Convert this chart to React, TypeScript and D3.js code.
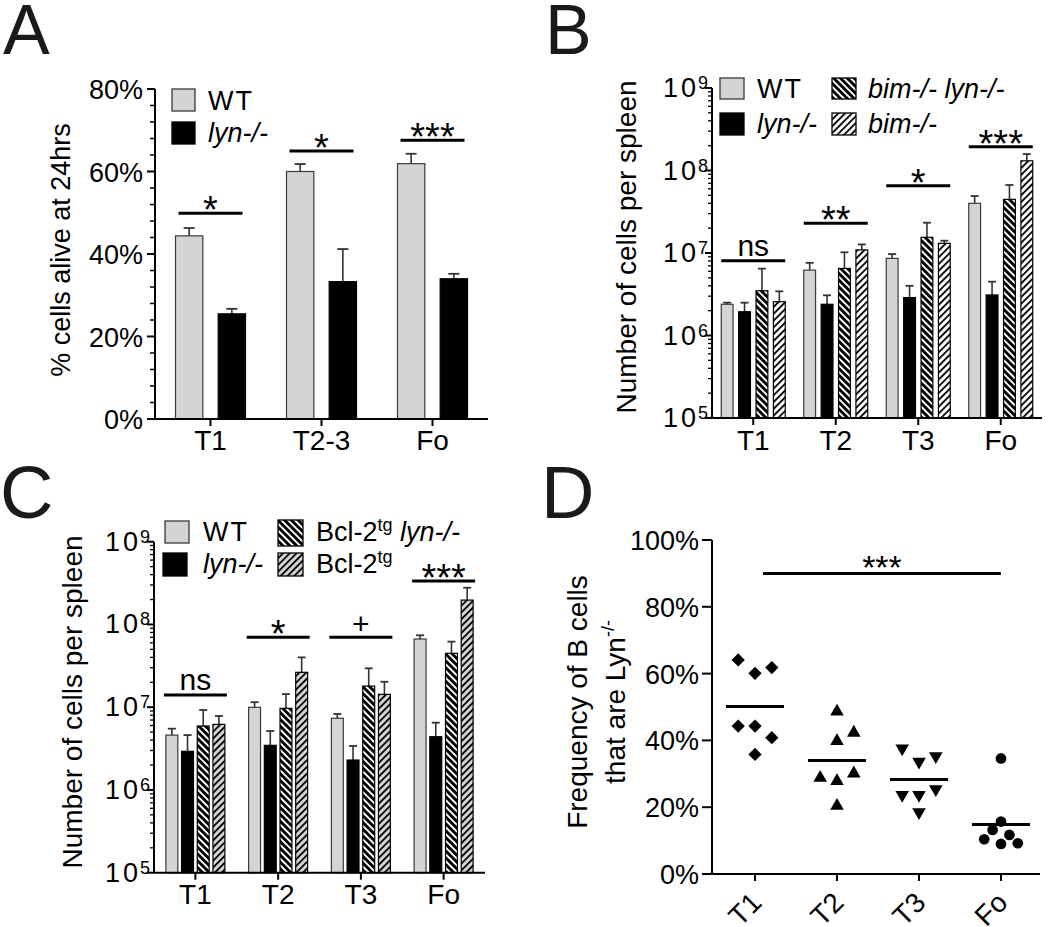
import React from "react";
import * as d3 from "d3";

const FONT = "'Liberation Sans', Arial, Helvetica, sans-serif";
const GRAY = "#d4d4d4";

// ---------------- Panel A: % cells alive at 24hrs ----------------
const aCategories = ["T1", "T2-3", "Fo"];
const aWT = [44.4, 60.0, 61.9];
const aWTErr = [1.9, 1.8, 2.4];
const aLyn = [25.5, 33.3, 34.0];
const aLynErr = [1.2, 7.9, 1.2];
const aSigLabels = ["*", "*", "***"];
const aSigLevels = [49.9, 65.0, 67.6];
const aYTicks = [0, 20, 40, 60, 80];

// ---------------- Panel B: cells per spleen (millions) ----------------
const bCategories = ["T1", "T2", "T3", "Fo"];
const bWT = [2.39, 6.2, 8.6, 40];
const bWTErr = [0.11, 1.4, 1.1, 9];
const bLyn = [1.94, 2.39, 2.88, 3.1];
const bLynErr = [0.56, 0.68, 1.12, 1.39];
const bBimLyn = [3.49, 6.5, 15.5, 44.7];
const bBimLynErr = [2.97, 3.7, 7.8, 22];
const bBim = [2.57, 10.9, 13.1, 131];
const bBimErr = [0.86, 1.8, 1.0, 27];
const bSigLabels = ["ns", "**", "*", "***"];
const bSigLevels = [8.07, 22.9, 65.5, 194];

// ---------------- Panel C: cells per spleen (millions) ----------------
const cCategories = ["T1", "T2", "T3", "Fo"];
const cWT = [4.6, 9.96, 7.35, 66.7];
const cWTErr = [0.9, 1.54, 0.93, 7.3];
const cLyn = [2.93, 3.46, 2.3, 4.4];
const cLynErr = [1.67, 1.69, 1.1, 2.1];
const cBclLyn = [5.93, 9.7, 18.0, 44.8];
const cBclLynErr = [3.32, 4.7, 11.5, 17.2];
const cBcl = [6.2, 26.4, 14.3, 197];
const cBclErr = [1.63, 13.6, 6.0, 81];
const cSigLabels = ["ns", "*", "+", "***"];
const cSigLevels = [14.0, 70, 70, 335];

// log axis domain in millions: 10^5 .. 10^9 cells
const logDomain = [0.1, 1000];

// ---------------- Panel D: frequency of B cells that are Lyn-/- ----------------
const dCategories = ["T1", "T2", "T3", "Fo"];
const dT1 = [60.1, 61.8, 64.1, 44.3, 40.8, 44.3, 35.8];
const dT2 = [48.6, 39.8, 42.3, 27.8, 30.1, 28.8, 20.4];
const dT3 = [33.6, 35.3, 37.6, 23.7, 25.4, 23.7, 18.5];
const dFo = [34.6, 15.7, 9.0, 9.2, 10.4, 11.7, 13.2];
const dYTicks = [0, 20, 40, 60, 80, 100];
const dSigLabel = "***";
const dSigLevel = 90;

type Series = { name: string; values: number[]; errs: number[]; fill: string; stroke: string };

function Bars({ x, sub, y, categories, series, capW, sigLabels, sigLevels, sigInset }: any) {
  const base = y.range()[0];
  const out: any[] = [];
  series.forEach((s: Series) => {
    categories.forEach((c: string, ci: number) => {
      const bx = (x(c) as number) + x.bandwidth() / 2 + (sub(s.name) as number);
      const bw = sub.bandwidth();
      const top = y(s.values[ci]);
      const et = y(s.values[ci] + s.errs[ci]);
      const cx = bx + bw / 2;
      out.push(
        <g key={s.name + c}>
          <line x1={cx} x2={cx} y1={top} y2={et} stroke="#333" strokeWidth={1.6} />
          <line x1={cx - capW / 2} x2={cx + capW / 2} y1={et} y2={et} stroke="#333" strokeWidth={1.8} />
          <rect x={bx} y={top} width={bw} height={base - top} fill={s.fill} stroke={s.stroke} strokeWidth={1.2} />
        </g>
      );
    });
  });
  categories.forEach((c: string, ci: number) => {
    const mid = (x(c) as number) + x.bandwidth() / 2;
    const [r0, r1] = sub.range();
    const ly = y(sigLevels[ci]);
    const lab = sigLabels[ci];
    const isStar = lab.indexOf("*") >= 0;
    out.push(
      <g key={"sig" + c}>
        <line x1={mid + r0 + sigInset} x2={mid + r1 - sigInset} y1={ly} y2={ly} stroke="#000" strokeWidth={3} />
        <text x={mid} y={isStar ? ly + 10 : lab === "+" ? ly - 3 : ly - 5} textAnchor="middle"
          fontSize={isStar ? 38 : 30} fontFamily={FONT}>{lab}</text>
      </g>
    );
  });
  return <g>{out}</g>;
}

function XAxis({ x, y0, x0, x1, labelDy }: any) {
  return (
    <g>
      <line x1={x0} x2={x1} y1={y0} y2={y0} stroke="#000" strokeWidth={2} />
      {x.domain().map((c: string) => {
        const cx = (x(c) as number) + x.bandwidth() / 2;
        return (
          <g key={c}>
            <line x1={cx} x2={cx} y1={y0} y2={y0 + 7} stroke="#000" strokeWidth={2} />
            <text x={cx} y={y0 + labelDy} textAnchor="middle" fontSize={28} fontFamily={FONT}>{c}</text>
          </g>
        );
      })}
    </g>
  );
}

function LogYAxis({ y, x0 }: any) {
  const [d0, d1] = y.domain();
  const majors: number[] = [];
  const minors: number[] = [];
  for (let e = Math.round(Math.log10(d0)); e <= Math.round(Math.log10(d1)); e++) {
    const p = Math.pow(10, e);
    majors.push(p);
    if (e < Math.round(Math.log10(d1))) for (let m = 2; m <= 9; m++) minors.push(m * p);
  }
  return (
    <g>
      <line x1={x0} x2={x0} y1={y(d0)} y2={y(d1)} stroke="#000" strokeWidth={2} />
      {minors.map((v) => (
        <line key={"m" + v} x1={x0 - 4} x2={x0} y1={y(v)} y2={y(v)} stroke="#000" strokeWidth={1.3} />
      ))}
      {majors.map((v) => {
        const exp = Math.round(Math.log10(v * 1e6));
        return (
          <g key={"M" + v}>
            <line x1={x0 - 7} x2={x0} y1={y(v)} y2={y(v)} stroke="#000" strokeWidth={2} />
            <text x={x0 - 4} y={y(v) + 9} textAnchor="end" fontSize={27} fontFamily={FONT}>
              1<tspan dx={3}>0</tspan>
              <tspan dx={2} dy={-8} fontSize={18}>{exp}</tspan>
            </text>
          </g>
        );
      })}
    </g>
  );
}

function LegendBox({ x, y, w, h, fill, stroke }: any) {
  return <rect x={x} y={y} width={w} height={h} fill={fill} stroke={stroke} strokeWidth={1.3} />;
}

function swarmOffsets(values: number[], yScale: any, step: number, minDist: number) {
  const placed: { x: number; y: number }[] = [];
  const cands: number[] = [0];
  for (let k = 1; k <= 6; k++) cands.push(k * step, -k * step);
  return values.map((v) => {
    const py = yScale(v);
    for (const dx of cands) {
      if (placed.every((p) => Math.hypot(p.x - dx, p.y - py) >= minDist)) {
        placed.push({ x: dx, y: py });
        return dx;
      }
    }
    return 0;
  });
}

export default function App() {
  // ---------- Panel A ----------
  const aX = d3.scaleBand<string>().domain(aCategories).range([155, 488]);
  const aSub = d3.scaleBand<string>().domain(["WT", "lyn"]).range([-35, 35]).paddingInner(0.36);
  const aY = d3.scaleLinear().domain([0, 80]).range([419, 89]);
  const aSeries: Series[] = [
    { name: "WT", values: aWT, errs: aWTErr, fill: GRAY, stroke: "#3a3a3a" },
    { name: "lyn", values: aLyn, errs: aLynErr, fill: "#000", stroke: "#000" },
  ];
  const aMinor = d3.range(0, 81, 4).filter((v) => v % 20 !== 0);

  // ---------- Panel B ----------
  const bX = d3.scaleBand<string>().domain(bCategories).range([712, 1042]);
  const bSub = d3.scaleBand<string>().domain(["WT", "lyn", "bimlyn", "bim"]).range([-32, 32]).paddingInner(0.32);
  const bY = d3.scaleLog().domain(logDomain).range([418, 88]);
  const bSeries: Series[] = [
    { name: "WT", values: bWT, errs: bWTErr, fill: GRAY, stroke: "#3a3a3a" },
    { name: "lyn", values: bLyn, errs: bLynErr, fill: "#000", stroke: "#000" },
    { name: "bimlyn", values: bBimLyn, errs: bBimLynErr, fill: "url(#hatchBlack)", stroke: "#000" },
    { name: "bim", values: bBim, errs: bBimErr, fill: "url(#hatchWhite)", stroke: "#000" },
  ];

  // ---------- Panel C ----------
  const cX = d3.scaleBand<string>().domain(cCategories).range([154, 485]);
  const cSub = d3.scaleBand<string>().domain(["WT", "lyn", "bcllyn", "bcl"]).range([-29.5, 29.5]).paddingInner(0.24);
  const cY = d3.scaleLog().domain(logDomain).range([872.7, 541.7]);
  const cSeries: Series[] = [
    { name: "WT", values: cWT, errs: cWTErr, fill: GRAY, stroke: "#3a3a3a" },
    { name: "lyn", values: cLyn, errs: cLynErr, fill: "#000", stroke: "#000" },
    { name: "bcllyn", values: cBclLyn, errs: cBclLynErr, fill: "url(#hatchBlack)", stroke: "#000" },
    { name: "bcl", values: cBcl, errs: cBclErr, fill: "url(#hatchGray)", stroke: "#000" },
  ];

  // ---------- Panel D ----------
  const dX = d3.scaleBand<string>().domain(dCategories).range([714, 1042]);
  const dY = d3.scaleLinear().domain([0, 100]).range([874, 540]);
  const dGroups = [dT1, dT2, dT3, dFo];
  const symbols = [
    { type: d3.symbolSquare, size: 88, rot: 45, dist: 16.3 },
    { type: d3.symbolTriangle, size: 80, rot: 0, dist: 16.3 },
    { type: d3.symbolTriangle, size: 80, rot: 180, dist: 16.3 },
    { type: d3.symbolCircle, size: 90, rot: 0, dist: 11 },
  ];
  const dCenter = (c: string) => (dX(c) as number) + dX.bandwidth() / 2;

  const txt = (props: any, children: any) => (
    <text fontFamily={FONT} {...props}>{children}</text>
  );

  return (
    <svg width={1050} height={927} style={{ position: "absolute", left: 0, top: 0, background: "#fff" }}>
      <defs>
        <pattern id="hatchBlack" patternUnits="userSpaceOnUse" width={4.8} height={4.8} patternTransform="rotate(45)">
          <rect width={4.8} height={4.8} fill="#000" />
          <rect width={4.8} height={1.9} fill="#fff" />
        </pattern>
        <pattern id="hatchWhite" patternUnits="userSpaceOnUse" width={4.8} height={4.8} patternTransform="rotate(-45)">
          <rect width={4.8} height={4.8} fill="#fff" />
          <rect width={4.8} height={1.8} fill="#000" />
        </pattern>
        <pattern id="hatchGray" patternUnits="userSpaceOnUse" width={4.8} height={4.8} patternTransform="rotate(-45)">
          <rect width={4.8} height={4.8} fill={GRAY} />
          <rect width={4.8} height={1.8} fill="#000" />
        </pattern>
      </defs>
      <rect width={1050} height={927} fill="#fff" />

      {/* Panel letters */}
      {txt({ x: 3, y: 54, fontSize: 70, fill: "#1a1a1a" }, "A")}
      {txt({ x: 545, y: 54, fontSize: 70, fill: "#1a1a1a" }, "B")}
      {txt({ x: 0, y: 518, fontSize: 74, fill: "#1a1a1a" }, "C")}
      {txt({ x: 541, y: 518, fontSize: 74, fill: "#1a1a1a" }, "D")}

      {/* ================= Panel A ================= */}
      <g>
        <line x1={155} x2={155} y1={aY(0)} y2={aY(80)} stroke="#000" strokeWidth={2} />
        {aMinor.map((v) => (
          <line key={"am" + v} x1={150} x2={155} y1={aY(v)} y2={aY(v)} stroke="#000" strokeWidth={1.5} />
        ))}
        {aYTicks.map((v) => (
          <g key={"at" + v}>
            <line x1={147} x2={155} y1={aY(v)} y2={aY(v)} stroke="#000" strokeWidth={2} />
            {txt({ x: 143, y: aY(v) + 10, textAnchor: "end", fontSize: 27 }, `${v}%`)}
          </g>
        ))}
        {txt({ transform: `translate(70,250) rotate(-90)`, textAnchor: "middle", fontSize: 27 }, "% cells alive at 24hrs")}
        <Bars x={aX} sub={aSub} y={aY} categories={aCategories} series={aSeries} capW={11}
          sigLabels={aSigLabels} sigLevels={aSigLevels} sigInset={3} />
        <XAxis x={aX} y0={419} x0={155} x1={488} labelDy={31} />
        <LegendBox x={172} y={89} w={23} h={22} fill={GRAY} stroke="#3a3a3a" />
        <LegendBox x={172} y={122} w={23} h={22} fill="#000" stroke="#000" />
        {txt({ x: 208, y: 110, fontSize: 27, letterSpacing: 2 }, "WT")}
        {txt({ x: 208, y: 142, fontSize: 27, fontStyle: "italic" }, "lyn-/-")}
      </g>

      {/* ================= Panel B ================= */}
      <g>
        <LogYAxis y={bY} x0={712} />
        {txt({ transform: `translate(636,247) rotate(-90)`, textAnchor: "middle", fontSize: 28 }, "Number of cells per spleen")}
        <Bars x={bX} sub={bSub} y={bY} categories={bCategories} series={bSeries} capW={8}
          sigLabels={bSigLabels} sigLevels={bSigLevels} sigInset={0} />
        <XAxis x={bX} y0={418} x0={712} x1={1042} labelDy={32} />
        <LegendBox x={720} y={78} w={24} h={21} fill={GRAY} stroke="#3a3a3a" />
        <LegendBox x={720} y={113} w={24} h={22} fill="#000" stroke="#000" />
        <LegendBox x={832} y={78} w={24} h={21} fill="url(#hatchBlack)" stroke="#000" />
        <LegendBox x={832} y={113} w={24} h={22} fill="url(#hatchWhite)" stroke="#000" />
        {txt({ x: 757, y: 98, fontSize: 27, letterSpacing: 2 }, "WT")}
        {txt({ x: 757, y: 133, fontSize: 27, fontStyle: "italic" }, "lyn-/-")}
        {txt({ x: 868, y: 98, fontSize: 27, fontStyle: "italic" }, "bim-/- lyn-/-")}
        {txt({ x: 868, y: 133, fontSize: 27, fontStyle: "italic" }, "bim-/-")}
      </g>

      {/* ================= Panel C ================= */}
      <g>
        <LogYAxis y={cY} x0={154} />
        {txt({ transform: `translate(82,702) rotate(-90)`, textAnchor: "middle", fontSize: 28 }, "Number of cells per spleen")}
        <Bars x={cX} sub={cSub} y={cY} categories={cCategories} series={cSeries} capW={8}
          sigLabels={cSigLabels} sigLevels={cSigLevels} sigInset={-2} />
        <XAxis x={cX} y0={872.7} x0={154} x1={485} labelDy={31} />
        <LegendBox x={165} y={521} w={24} h={22} fill={GRAY} stroke="#3a3a3a" />
        <LegendBox x={163} y={553} w={24} h={23} fill="#000" stroke="#000" />
        <LegendBox x={278} y={520} w={25} h={26} fill="url(#hatchBlack)" stroke="#000" />
        <LegendBox x={278} y={553} w={25} h={23} fill="url(#hatchGray)" stroke="#000" />
        {txt({ x: 203, y: 541, fontSize: 27, letterSpacing: 2 }, "WT")}
        {txt({ x: 203, y: 573, fontSize: 27, fontStyle: "italic" }, "lyn-/-")}
        <text x={316} y={541} fontSize={27} fontFamily={FONT}>
          Bcl-2<tspan dy={-10} fontSize={18}>tg</tspan>
          <tspan dy={10} fontStyle="italic"> lyn-/-</tspan>
        </text>
        <text x={316} y={573} fontSize={27} fontFamily={FONT}>
          Bcl-2<tspan dy={-10} fontSize={18}>tg</tspan>
        </text>
      </g>

      {/* ================= Panel D ================= */}
      <g>
        <line x1={712} x2={712} y1={dY(0)} y2={dY(100)} stroke="#000" strokeWidth={2} />
        {dYTicks.map((v) => (
          <g key={"dt" + v}>
            <line x1={702} x2={712} y1={dY(v)} y2={dY(v)} stroke="#000" strokeWidth={2} />
            {txt({ x: 699, y: dY(v) + 10, textAnchor: "end", fontSize: 27 }, `${v}%`)}
          </g>
        ))}
        <line x1={712} x2={1040} y1={dY(0)} y2={dY(0)} stroke="#000" strokeWidth={2} />
        {dCategories.map((c) => (
          <g key={"dx" + c}>
            <line x1={dCenter(c)} x2={dCenter(c)} y1={dY(0)} y2={dY(0) + 7} stroke="#000" strokeWidth={2} />
            {txt({ transform: `translate(${dCenter(c) - 6},890) rotate(-45)`, textAnchor: "end", dy: "0.72em", fontSize: 28 }, c)}
          </g>
        ))}
        {txt({ transform: `translate(587,702) rotate(-90)`, textAnchor: "middle", fontSize: 28 }, "Frequency of B cells")}
        <text transform="translate(625,702) rotate(-90)" textAnchor="middle" fontSize={28} fontFamily={FONT}>
          that are Lyn<tspan dy={-11} fontSize={18}>-/-</tspan>
        </text>
        {dGroups.map((vals, gi) => {
          const c = dCategories[gi];
          const cx = dCenter(c);
          const sym = symbols[gi];
          const offs = swarmOffsets(vals, dY, 8.4, sym.dist);
          const path = d3.symbol().type(sym.type).size(sym.size)() as string;
          const mean = d3.mean(vals) as number;
          return (
            <g key={"dg" + c}>
              {vals.map((v, i) => (
                <path key={i} d={path} fill="#000"
                  transform={`translate(${cx + offs[i]},${dY(v)}) rotate(${sym.rot})`} />
              ))}
              <line x1={cx - 29} x2={cx + 29} y1={dY(mean)} y2={dY(mean)} stroke="#000" strokeWidth={3} />
            </g>
          );
        })}
        <line x1={dCenter("T1") + 8} x2={dCenter("Fo")} y1={dY(dSigLevel)} y2={dY(dSigLevel)} stroke="#000" strokeWidth={3} />
        {txt({ x: (dCenter("T1") + 8 + dCenter("Fo")) / 2, y: dY(dSigLevel) + 6, textAnchor: "middle", fontSize: 34 }, dSigLabel)}
      </g>
    </svg>
  );
}
